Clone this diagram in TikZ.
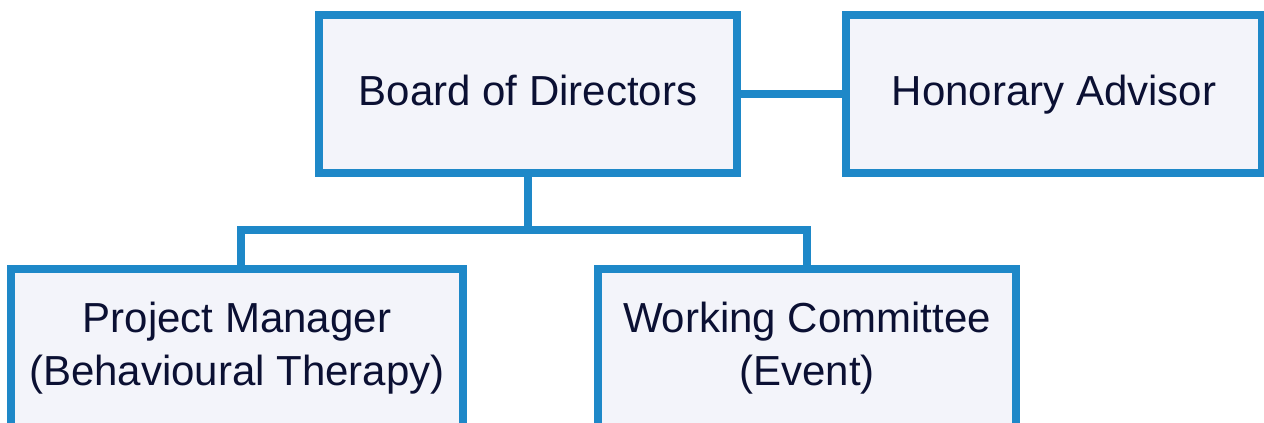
\documentclass[tikz,border=0pt]{standalone}
\usepackage{fontspec}
\setmainfont{Liberation Sans}
\definecolor{boxblue}{HTML}{1E88C8}
\definecolor{boxfill}{HTML}{F3F4FA}
\definecolor{boxtext}{HTML}{0B1033}
\begin{document}
\begin{tikzpicture}[x=1pt,y=-1pt]

    \tikzset{
      orgbox/.style={
        draw=boxblue,
        fill=boxfill,
        line width=8pt,
        inner sep=0pt,
        minimum height=158pt,
        align=center,
        text=boxtext,
        font=\fontsize{42}{53}\selectfont,
      },
      oneline/.style={
        text height=30pt,
        text depth=7pt,
      },
      link/.style={
        draw=boxblue,
        line width=8pt,
      },
    }
    \useasboundingbox (0,0) rectangle (1264,423);
    \clip (0,0) rectangle (1264,423);
	\node[orgbox, oneline, minimum width=418pt] (board) at (528,94) {Board of Directors};
	\node[orgbox, oneline, minimum width=416pt] (advisor) at (1054,94) {Honorary Advisor};
	\node[orgbox, minimum width=452pt] (pm) at (237,348) {Project Manager\\(Behavioural Therapy)};
	\node[orgbox, minimum width=418pt] (wc) at (807,348) {Working Committee\\(Event)};
	\coordinate (split) at (528,230);
	\coordinate (pmdrop) at (241,230);
	\coordinate (wcdrop) at (807,230);
	\draw[link] (board.east) -- (advisor.west);
	\draw[link] (board.south) -- (split);
	\draw[link] (pmdrop |- pm.north) -- (pmdrop) -- (wcdrop) -- (wc.north);

\end{tikzpicture}
\end{document}
